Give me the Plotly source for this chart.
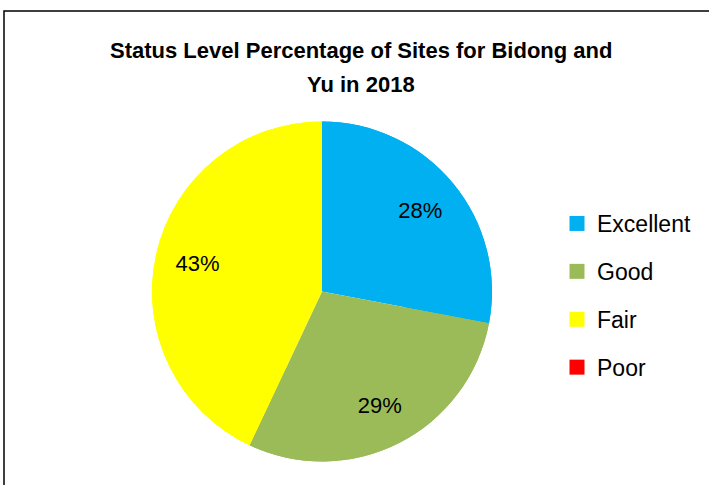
import plotly.graph_objects as go

categories = ["Excellent", "Good", "Fair", "Poor"]
values = [28, 29, 43, 0]
colors = ["#00B0F0", "#9BBB59", "#FFFF00", "#FF0000"]
title_line1 = "Status Level Percentage of Sites for Bidong and"
title_line2 = "Yu in 2018"

W, H = 709, 485
FONT = "Liberation Sans, Arial, sans-serif"
pie_domain = dict(x=[152 / W, 492 / W], y=[23.5 / H, 363.5 / H])

fig = go.Figure()
# full pie (no text)
fig.add_trace(go.Pie(
    labels=categories, values=values,
    marker=dict(colors=colors, line=dict(width=0)),
    sort=False, direction="clockwise", rotation=0,
    textinfo="none", showlegend=False, hoverinfo="skip",
    domain=pie_domain,
))
# ring on top carrying the percentage labels at ~0.75 r
fig.add_trace(go.Pie(
    labels=categories, values=values, hole=0.5,
    marker=dict(colors=colors, line=dict(width=0)),
    sort=False, direction="clockwise", rotation=0,
    textinfo="percent", textposition="inside",
    insidetextorientation="horizontal",
    textfont=dict(family=FONT, size=22, color="black"),
    showlegend=False, hoverinfo="label+percent",
    domain=pie_domain,
))

# legend entries as square markers
for c, col in zip(categories, colors):
    fig.add_trace(go.Scatter(
        x=[None], y=[None], mode="markers", name=c,
        marker=dict(symbol="square", size=15, color=col),
        legendgroup=c, showlegend=True, hoverinfo="skip",
    ))

fig.update_layout(
    width=W, height=H,
    margin=dict(l=0, r=0, t=0, b=0),
    paper_bgcolor="white", plot_bgcolor="white",
    xaxis=dict(visible=False), yaxis=dict(visible=False),
    showlegend=True,
    legend=dict(
        x=557 / W, y=1 - 202 / H, xanchor="left", yanchor="top",
        font=dict(family=FONT, size=23, color="black"),
        tracegroupgap=15, bgcolor="rgba(0,0,0,0)",
    ),
    annotations=[
        dict(text="<b>" + title_line1 + "</b>", x=361 / W, y=1 - 51 / H,
             xref="paper", yref="paper", xanchor="center", yanchor="middle",
             showarrow=False, font=dict(family=FONT, size=22, color="black")),
        dict(text="<b>" + title_line2 + "</b>", x=361 / W, y=1 - 84 / H,
             xref="paper", yref="paper", xanchor="center", yanchor="middle",
             showarrow=False, font=dict(family=FONT, size=22, color="black")),
    ],
    shapes=[dict(type="rect", xref="paper", yref="paper",
                 x0=4 / W, x1=1.2, y0=-0.2, y1=1 - 11 / H,
                 line=dict(color="black", width=1.5))],
)

fig.write_html("out.html", config={"displayModeBar": False},
               post_script="document.body.style.margin='0';")
